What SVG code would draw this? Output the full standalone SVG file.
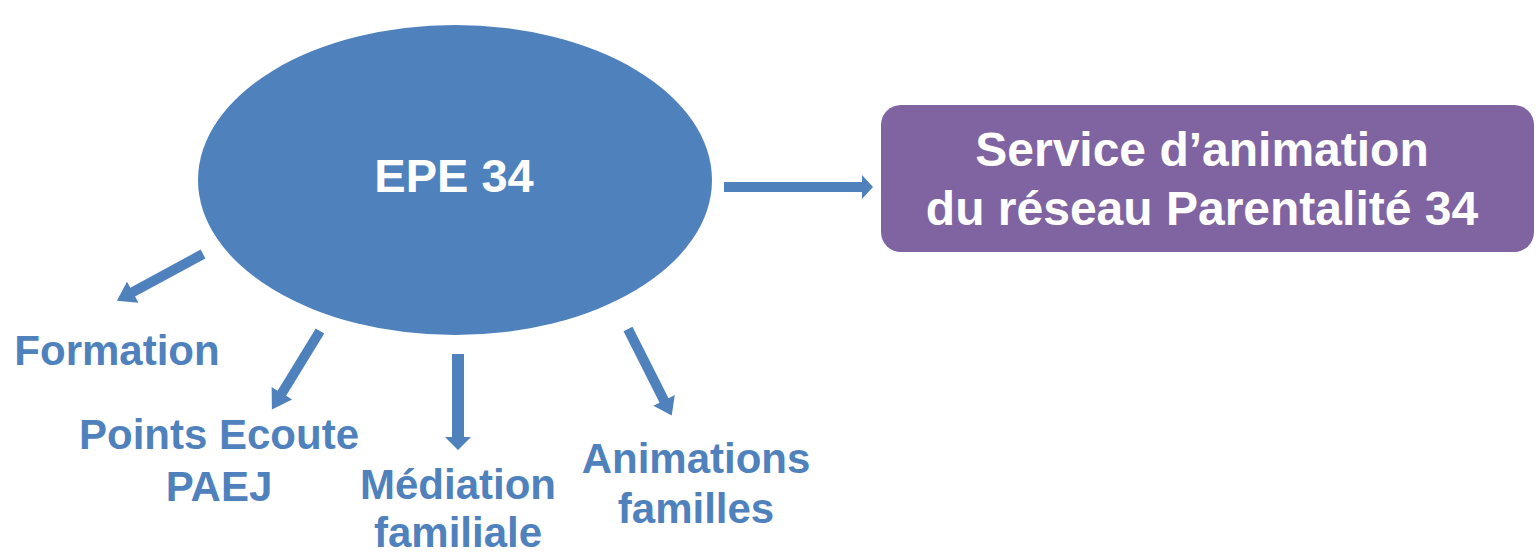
<svg xmlns="http://www.w3.org/2000/svg" width="1536" height="554" viewBox="0 0 1536 554">
<style>
.lbl{font-family:"Liberation Sans",Arial,sans-serif;font-weight:bold;fill:#4F81BD;text-anchor:middle;font-size:42px}
.wt{font-family:"Liberation Sans",Arial,sans-serif;font-weight:bold;fill:#FFFFFF;text-anchor:middle}
.arr{fill:#4F81BD}
</style>
<rect width="1536" height="554" fill="#FFFFFF"/>
<g id="epe34">
<ellipse cx="455" cy="180" rx="257" ry="155" fill="#4F81BD"/>
<text class="wt" x="454" y="192" font-size="47">EPE 34</text>
</g>
<g id="service">
<rect x="881" y="105" width="653" height="147" rx="20" fill="#8064A2"/>
<text class="wt" x="1202" y="166" font-size="48">Service d’animation</text>
<text class="wt" x="1202" y="225" font-size="48">du réseau Parentalité 34</text>
</g>
<g id="formation"><text class="lbl" x="117" y="365">Formation</text></g>
<g id="points-ecoute"><text class="lbl" x="219" y="449">Points Ecoute</text><text class="lbl" x="219" y="501">PAEJ</text></g>
<g id="mediation"><text class="lbl" x="458" y="499">Médiation</text><text class="lbl" x="458" y="547">familiale</text></g>
<g id="animations"><text class="lbl" x="696" y="473">Animations</text><text class="lbl" x="696" y="523">familles</text></g>
<g id="connectors">
<polygon class="arr" points="724,182 862,182 862,175 873,187 862,199 862,192 724,192"/>
<g transform="translate(203,254) rotate(151.5)">
<polygon class="arr" points="0,-5 80,-5 80,-12 98,0 80,12 80,5 0,5"/>
</g>
<g transform="translate(320,331) rotate(121.5)">
<polygon class="arr" points="0,-5 73,-5 73,-12 92,0 73,12 73,5 0,5"/>
</g>
<g transform="translate(458,354) rotate(90)">
<polygon class="arr" points="0,-6 83,-6 83,-13 96,0 83,13 83,6 0,6"/>
</g>
<g transform="translate(628,329) rotate(63.2)">
<polygon class="arr" points="0,-5 80,-5 80,-12 97,0 80,12 80,5 0,5"/>
</g>
</g>
</svg>
